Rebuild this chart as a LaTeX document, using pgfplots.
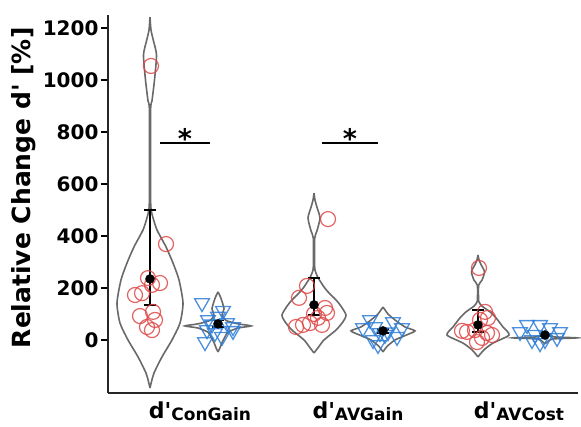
\documentclass[border=0pt]{standalone}
\usepackage{pgfplots}
\pgfplotsset{compat=1.18}
\usepackage{pgfplotstable}
\usepackage{fontspec}
\newfontfamily\df{DejaVu Sans}
\usetikzlibrary{calc}
\definecolor{vred}{RGB}{222,72,72}
\definecolor{vblue}{RGB}{45,125,215}
\definecolor{vgray}{RGB}{105,105,105}

% violin outlines: value v, half width w (axis x units)
\pgfplotstableread{
v w
-185 0
-160 1.5
-127 4
-65 12
0 22
65 30
142 33
231 29
296 23
358 16
423 7
470 3
500 1.2
550 0.6
880 0.6
920 2
1000 4.5
1096 6.5
1150 3.5
1192 1
1242 0
}\vCGr
\pgfplotstableread{
v w
-46 0
-30 2
-10 4
12 7
30 10
46 20
54 33
62 20
75 8
95 4
120 6
160 3
185 0
}\vCGb
\pgfplotstableread{
v w
-50 0
-30 4
0 10
38 22
70 29
96 32
130 27
154 22
185 14
204 10
240 4
269 1
300 0.6
390 0.6
420 3
469 6
510 3
538 1
565 0
}\vAGr
\pgfplotstableread{
v w
-46 0
-25 4
0 12
20 24
35 32
50 22
77 12
100 5
127 0
}\vAGb
\pgfplotstableread{
v w
-65 0
-38 6
-12 15
19 31
50 25
85 18
108 12
130 4
142 1.5
150 0.6
210 0.6
230 4
262 6.5
290 3
308 1
327 0
}\vACr
\pgfplotstableread{
v w
-15 0
-5 3
4 8
8 32
12 8
20 3
35 0
}\vACb

\begin{document}
\begin{tikzpicture}
\begin{axis}[
  scale only axis, width=470pt, height=378pt,
  xmin=108, xmax=578, ymin=-204, ymax=1250,
  axis lines=left, axis line style={line width=1.5pt, black!85, -},
  clip=false,
  ytick={0,200,...,1200},
  xtick={200,358,519},
  xticklabels={{d'\raisebox{-0.2ex}{\fontsize{17}{17}\selectfont ConGain}},
               {d'\raisebox{-0.2ex}{\fontsize{17}{17}\selectfont AVGain}},
               {d'\raisebox{-0.2ex}{\fontsize{17}{17}\selectfont AVCost}}},
  x tick style={draw=none},
  y tick style={line width=1.2pt, black},
  tick align=outside, major tick length=7pt,
  /pgf/number format/assume math mode=true,
  /pgf/number format/1000 sep={},
  yticklabel style={font=\df\bfseries\fontsize{20}{20}\selectfont, xshift=1pt},
  xticklabel style={font=\df\bfseries\fontsize{22}{22}\selectfont, anchor=base, yshift=-18pt},
  violin/.style={vgray, line width=1.6pt, smooth, tension=0.4, no marks},
]
\coordinate (sw) at (axis cs:108,-204);
\coordinate (ne) at (axis cs:578,1250);
% violins
\addplot[violin] table[x expr=150+\thisrow{w}, y=v]{\vCGr};
\addplot[violin] table[x expr=150-\thisrow{w}, y=v]{\vCGr};
\addplot[violin] table[x expr=218+\thisrow{w}, y=v]{\vCGb};
\addplot[violin] table[x expr=218-\thisrow{w}, y=v]{\vCGb};
\addplot[violin] table[x expr=314+\thisrow{w}, y=v]{\vAGr};
\addplot[violin] table[x expr=314-\thisrow{w}, y=v]{\vAGr};
\addplot[violin] table[x expr=383+\thisrow{w}, y=v]{\vAGb};
\addplot[violin] table[x expr=383-\thisrow{w}, y=v]{\vAGb};
\addplot[violin] table[x expr=478+\thisrow{w}, y=v]{\vACr};
\addplot[violin] table[x expr=478-\thisrow{w}, y=v]{\vACr};
\addplot[violin] table[x expr=545+\thisrow{w}, y=v]{\vACb};
\addplot[violin] table[x expr=545-\thisrow{w}, y=v]{\vACb};
% red circles
\addplot[only marks, mark=o, mark size=7.5pt, vred, mark options={line width=1.2pt, opacity=0.85}] coordinates {
(151,1054) (166,369) (148,238) (160,219) (152,212) (135,173) (142,180) (140,92) (153,108) (155,77) (147,50) (152,38)
(328,465) (307,208) (299,162) (325,123) (327,104) (318,85) (303,58) (310,65) (322,58) (314,100) (296,50)
(479,277) (485,108) (488,85) (480,77) (467,31) (487,27) (482,8) (475,38) (492,19) (477,-8) (462,35)
};
% blue triangles
\addplot[only marks, mark=triangle, mark size=8.5pt, vblue, mark options={rotate=180, line width=1.3pt, opacity=0.85}] coordinates {
(202,142) (223,112) (208,77) (227,65) (233,50) (207,38) (215,27) (205,-8) (222,12) (218,90) (212,60) (233,35)
(370,77) (375,50) (393,69) (402,46) (380,27) (373,0) (378,-19) (397,12) (363,46) (388,30) (385,20)
(527,58) (540,58) (550,46) (532,0) (540,-12) (557,8) (560,31) (520,31) (545,0) (535,20)
};
% means and error bars
\addplot[only marks, mark=*, mark size=4.5pt, black,
  error bars/.cd, y dir=both, y explicit,
  error bar style={line width=1.5pt, black},
  error mark options={rotate=90, mark size=6pt, line width=1.5pt, black}]
coordinates {
(150,235) += (0,265) -= (0,100)
(218,62) += (0,12) -= (0,12)
(314,135) += (0,103) -= (0,39)
(383,35) += (0,8) -= (0,8)
(478,58) += (0,57) -= (0,27)
(545,19) += (0,6) -= (0,6)
};
% significance bars
\addplot[black, line width=1.5pt, no marks] coordinates {(160,758) (210,758)};
\addplot[black, line width=1.5pt, no marks] coordinates {(322,758) (378,758)};
\node[anchor=base, font=\df\bfseries\fontsize{27}{27}\selectfont] at (axis cs:185,738) {*};
\node[anchor=base, font=\df\bfseries\fontsize{27}{27}\selectfont] at (axis cs:350,738) {*};
% y label
\node[rotate=90, font=\df\bfseries\fontsize{25}{25}\selectfont] at (axis cs:24,585) {Relative Change d' [\%]};
\end{axis}
\pgfresetboundingbox
\path ($(sw)+(-108pt,-33pt)$) rectangle ($(ne)+(3pt,15pt)$);
\end{tikzpicture}
\end{document}
